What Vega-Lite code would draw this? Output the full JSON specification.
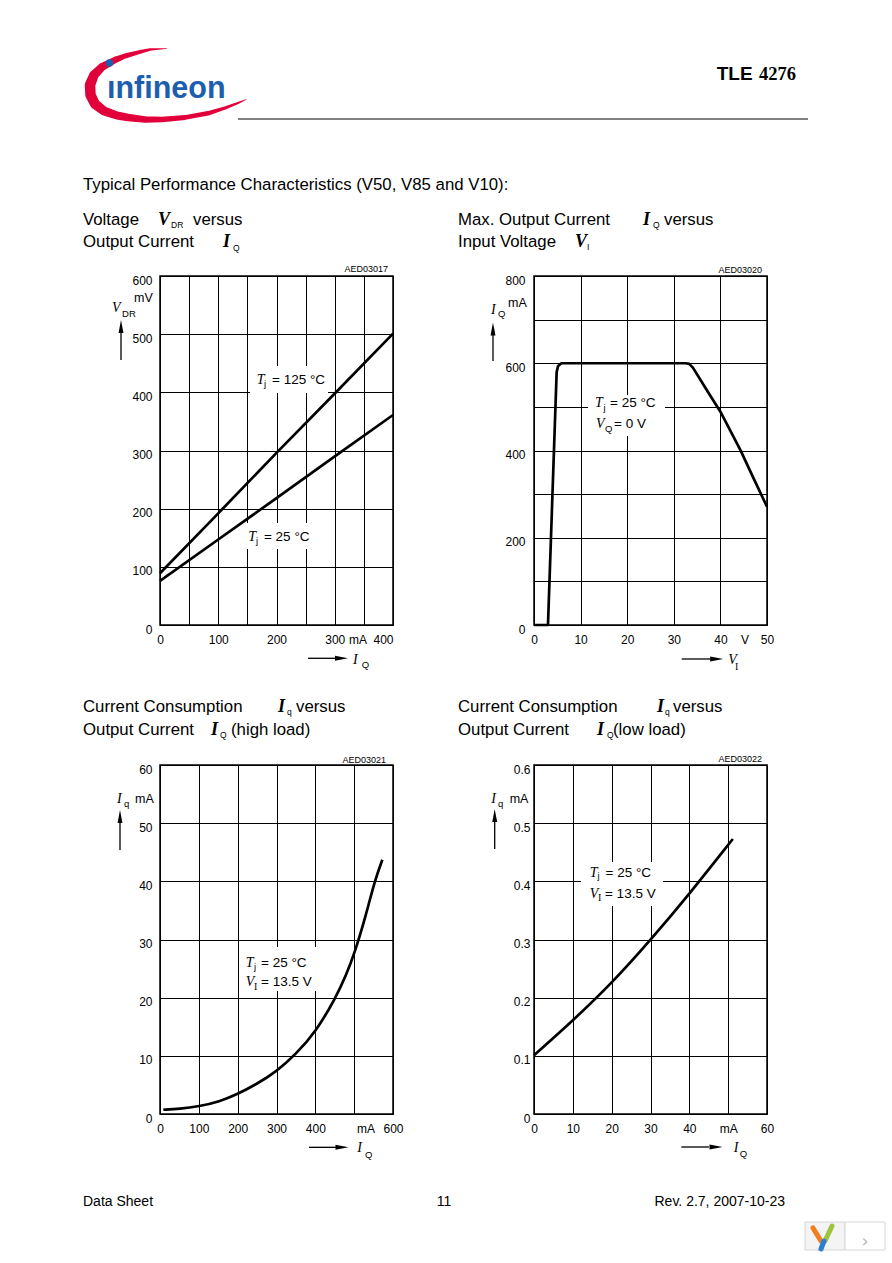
{
"$schema": "https://vega.github.io/schema/vega-lite/v6.json",
"padding": 0,
"background": "white",
"columns": 3,
"align": "each",
"bounds": "flush",
"spacing": {"row": 140, "column": 141},
"config": {
  "view": {"stroke": null},
  "mark": {"color": "#000"},
  "axis": {"labelFont": "Liberation Sans", "labelFontSize": 12, "labelColor": "#000", "grid": true, "gridColor": "#000", "gridOpacity": 1, "gridWidth": 1, "domain": false, "ticks": false, "labelFlush": false, "labelOverlap": false},
  "axisX": {"labelPadding": 9.5},
  "axisY": {"labelPadding": 8, "labelOffset": 4},
  "style": {
    "hw": {"font": "Liberation Sans", "fontSize": 16.8, "align": "left", "baseline": "middle"},
    "hsym": {"font": "Liberation Serif", "fontSize": 18, "fontStyle": "italic", "fontWeight": "bold", "align": "left", "baseline": "middle"},
    "hsub": {"font": "Liberation Sans", "fontSize": 8.5, "align": "left", "baseline": "middle"},
    "tag": {"font": "Liberation Sans", "fontSize": 9, "align": "right", "baseline": "middle"},
    "sym": {"font": "Liberation Serif", "fontSize": 14, "fontStyle": "italic", "align": "left", "baseline": "middle"},
    "sub": {"font": "Liberation Sans", "fontSize": 9.5, "align": "left", "baseline": "middle"},
    "subs": {"font": "Liberation Serif", "fontSize": 10, "align": "left", "baseline": "middle"},
    "txt": {"font": "Liberation Sans", "fontSize": 13.5, "align": "left", "baseline": "middle"},
    "unit": {"font": "Liberation Sans", "fontSize": 12.5, "align": "left", "baseline": "middle"},
    "unitc": {"font": "Liberation Sans", "fontSize": 12, "align": "center", "baseline": "middle"}
  }
},
"concat": [
  {
    "width": 19, "height": 136,
    "encoding": {
      "x": {"field": "x", "type": "quantitative", "scale": {"domain": [0, 19], "nice": false, "zero": false}, "axis": null},
      "y": {"field": "y", "type": "quantitative", "scale": {"domain": [0, 136], "nice": false, "zero": false, "reverse": true}, "axis": null}
    },
    "layer": [
      {"data": {"values": [{"x": 238, "x2": 808, "y": 119}]}, "mark": {"type": "rule", "strokeWidth": 1.2, "color": "#000"}, "encoding": {"x2": {"field": "x2"}}},
      {"data": {"values": [
        {"i": 0, "x": 167, "y": 48.5, "w": 0.5}, {"i": 1, "x": 150, "y": 49.5, "w": 2.5}, {"i": 2, "x": 141.7, "y": 51.5, "w": 3.5},
        {"i": 3, "x": 125, "y": 56, "w": 5}, {"i": 4, "x": 115, "y": 60, "w": 6.5}, {"i": 5, "x": 102, "y": 67, "w": 8},
        {"i": 6, "x": 94, "y": 75, "w": 9.5}, {"i": 7, "x": 90, "y": 85, "w": 10.5}, {"i": 8, "x": 90.5, "y": 95, "w": 10.5},
        {"i": 9, "x": 95, "y": 104, "w": 10}, {"i": 10, "x": 104, "y": 111, "w": 9}, {"i": 11, "x": 117, "y": 115.5, "w": 8},
        {"i": 12, "x": 128, "y": 117.5, "w": 7.5}, {"i": 13, "x": 145, "y": 119.5, "w": 6.5}, {"i": 14, "x": 162, "y": 119.5, "w": 5.5},
        {"i": 15, "x": 185, "y": 117.5, "w": 4.8}, {"i": 16, "x": 208, "y": 113.3, "w": 4.5}, {"i": 17, "x": 225, "y": 108, "w": 3.3},
        {"i": 18, "x": 238, "y": 103, "w": 2}, {"i": 19, "x": 246, "y": 99.5, "w": 0.8}
      ]}, "mark": {"type": "trail", "color": "#e2003a"},
       "encoding": {"size": {"field": "w", "type": "quantitative", "scale": {"domain": [0, 12], "range": [0, 12]}, "legend": null}, "order": {"field": "i", "type": "quantitative"}}},
      {"data": {"values": [{"x": 107, "y": 98.3, "t": "ınfineon"}]}, "mark": {"type": "text", "font": "Liberation Sans", "fontWeight": "bold", "fontSize": 30.5, "align": "left", "baseline": "alphabetic", "color": "#1c5fae"}, "encoding": {"text": {"field": "t", "type": "nominal"}}},
      {"data": {"values": [{"x": 109.5, "y": 63}]}, "mark": {"type": "point", "shape": "circle", "filled": true, "opacity": 1, "size": 56, "color": "#1c5fae"}},
      {"data": {"values": [{"x": 716.7, "y": 73.5, "t": "TLE"}]}, "mark": {"type": "text", "font": "Liberation Sans", "fontWeight": "bold", "fontSize": 19, "align": "left", "baseline": "middle"}, "encoding": {"text": {"field": "t", "type": "nominal"}}},
      {"data": {"values": [{"x": 759, "y": 73.5, "t": "4276"}]}, "mark": {"type": "text", "font": "Liberation Serif", "fontWeight": "bold", "fontSize": 18.5, "align": "left", "baseline": "middle"}, "encoding": {"text": {"field": "t", "type": "nominal"}}},
      {"data": {"values": [{"x": 83, "y": 185, "t": "Typical Performance Characteristics (V50, V85 and V10):"}]}, "mark": {"type": "text", "style": "hw"}, "encoding": {"text": {"field": "t", "type": "nominal"}}}
    ]
  },
  {"width": 233, "height": 136, "data": {"values": [{}]}, "mark": {"type": "text", "text": ""}},
  {"width": 233, "height": 136, "data": {"values": [{}]}, "mark": {"type": "text", "text": ""}},
  {"width": 19, "height": 349, "data": {"values": [{}]}, "mark": {"type": "text", "text": ""}},
  {
    "width": 233, "height": 349,
    "view": {"stroke": "#000", "strokeWidth": 1.5},
    "encoding": {
      "x": {"field": "x", "type": "quantitative", "scale": {"domain": [0, 400], "nice": false, "zero": false},
            "axis": {"title": null, "values": [0, 50, 100, 150, 200, 250, 300, 350, 400], "labelExpr": "datum.value % 100 === 0 ? datum.label : ''", "labelAlign": {"condition": {"test": "datum.value === 400", "value": "right"}, "value": "center"}}},
      "y": {"field": "y", "type": "quantitative", "scale": {"domain": [0, 600], "nice": false, "zero": false},
            "axis": {"title": null, "values": [0, 100, 200, 300, 400, 500, 600]}}
    },
    "layer": [
      {"data": {"values": [{"x": 154.5, "x2": 288.4, "y": 445.3, "y2": 398.9}, {"x": 142.5, "x2": 262.7, "y": 175.4, "y2": 130.7}]}, "mark": {"type": "rect", "color": "#fff"}, "encoding": {"x2": {"field": "x2"}, "y2": {"field": "y2"}}},
      {"data": {"values": [
        {"s": "125", "x": 0, "y": 89}, {"s": "125", "x": 100, "y": 192}, {"s": "125", "x": 200, "y": 296}, {"s": "125", "x": 300, "y": 398}, {"s": "125", "x": 400, "y": 501},
        {"s": "25", "x": 0, "y": 76}, {"s": "25", "x": 100, "y": 147}, {"s": "25", "x": 200, "y": 218}, {"s": "25", "x": 300, "y": 290}, {"s": "25", "x": 400, "y": 361}
      ]}, "mark": {"type": "line", "strokeWidth": 2.7, "color": "#000"}, "encoding": {"detail": {"field": "s", "type": "nominal"}}},
      {"data": {"values": [{"x": -66.95, "x2": -66.95, "y": 455.6, "y2": 502}, {"x": 254.1, "x2": 304, "y": -57.25, "y2": -57.25}]}, "mark": {"type": "rule", "strokeWidth": 1.3, "color": "#000"}, "encoding": {"x2": {"field": "x2"}, "y2": {"field": "y2"}}},
      {"data": {"values": [{"x": -66.95, "y": 513.2}]}, "mark": {"type": "point", "shape": "M0,-1L0.38,1L-0.38,1Z", "filled": true, "opacity": 1, "size": 169, "color": "#000"}},
      {"data": {"values": [{"x": 311.6, "y": -57.25}]}, "mark": {"type": "point", "shape": "M1,0L-1,-0.38L-1,0.38Z", "filled": true, "opacity": 1, "size": 169, "color": "#000"}},
      {"data": {"values": [{"x": -132.2, "y": 696.3, "t": "Voltage"}, {"x": 56.7, "y": 696.3, "t": "versus"}, {"x": -132.2, "y": 657.6, "t": "Output Current"}]}, "mark": {"type": "text", "style": "hw"}, "encoding": {"text": {"field": "t", "type": "nominal"}}},
      {"data": {"values": [{"x": -3.4, "y": 696.3, "t": "V"}, {"x": 108.2, "y": 657.6, "t": "I"}]}, "mark": {"type": "text", "style": "hsym"}, "encoding": {"text": {"field": "t", "type": "nominal"}}},
      {"data": {"values": [{"x": 18.9, "y": 688.5, "t": "DR"}, {"x": 125.3, "y": 648.1, "t": "Q"}]}, "mark": {"type": "text", "style": "hsub"}, "encoding": {"text": {"field": "t", "type": "nominal"}}},
      {"data": {"values": [{"x": 391.4, "y": 612.0, "t": "AED03017"}]}, "mark": {"type": "text", "style": "tag"}, "encoding": {"text": {"field": "t", "type": "nominal"}}},
      {"data": {"values": [{"x": -82.4, "y": 545.0, "t": "V"}, {"x": 166.0, "y": 421.2, "t": "T"}, {"x": 151.6, "y": 151.8, "t": "T"}, {"x": 331.3, "y": -60.2, "t": "I"}]}, "mark": {"type": "text", "style": "sym"}, "encoding": {"text": {"field": "t", "type": "nominal"}}},
      {"data": {"values": [{"x": -65.2, "y": 534.7, "t": "DR"}, {"x": 178.5, "y": 414.3, "t": "j"}, {"x": 164.8, "y": 144.4, "t": "j"}, {"x": 346.3, "y": -68.8, "t": "Q"}]}, "mark": {"type": "text", "style": "sub"}, "encoding": {"text": {"field": "t", "type": "nominal"}}},
      {"data": {"values": [{"x": 192.3, "y": 421.2, "t": "= 125 °C"}, {"x": 178.5, "y": 151.8, "t": "= 25 °C"}]}, "mark": {"type": "text", "style": "txt"}, "encoding": {"text": {"field": "t", "type": "nominal"}}},
      {"data": {"values": [{"x": -44.6, "y": 562.2, "t": "mV"}]}, "mark": {"type": "text", "style": "unit"}, "encoding": {"text": {"field": "t", "type": "nominal"}}},
      {"data": {"values": [{"x": 339.9, "y": -25.8, "t": "mA"}]}, "mark": {"type": "text", "style": "unitc"}, "encoding": {"text": {"field": "t", "type": "nominal"}}}
    ]
  },
  {
    "width": 233, "height": 349,
    "view": {"stroke": "#000", "strokeWidth": 1.5},
    "encoding": {
      "x": {"field": "x", "type": "quantitative", "scale": {"domain": [0, 50], "nice": false, "zero": false},
            "axis": {"title": null, "values": [0, 10, 20, 30, 40, 50]}},
      "y": {"field": "y", "type": "quantitative", "scale": {"domain": [0, 800], "nice": false, "zero": false},
            "axis": {"title": null, "values": [0, 100, 200, 300, 400, 500, 600, 700, 800], "labelExpr": "datum.value % 200 === 0 ? datum.label : ''", "labelPadding": 9}}
    },
    "layer": [
      {"data": {"values": [{"x": 11.59, "x2": 28.11, "y": 527.2, "y2": 433.2}]}, "mark": {"type": "rect", "color": "#fff"}, "encoding": {"x2": {"field": "x2"}, "y2": {"field": "y2"}}},
      {"data": {"values": [
        {"x": 0, "y": 0}, {"x": 3, "y": 0}, {"x": 4.86, "y": 579.5}, {"x": 5.14, "y": 593}, {"x": 5.86, "y": 600},
        {"x": 32.6, "y": 600}, {"x": 33.3, "y": 598.5}, {"x": 34.1, "y": 590}, {"x": 37, "y": 540}, {"x": 40, "y": 489},
        {"x": 44.3, "y": 401}, {"x": 47, "y": 339}, {"x": 50, "y": 271}
      ]}, "mark": {"type": "line", "strokeWidth": 2.7, "color": "#000", "strokeJoin": "round"}},
      {"data": {"values": [{"x": -8.8, "x2": -8.8, "y": 605.2, "y2": 664.8}, {"x": 31.7, "x2": 37.98, "y": -77.9, "y2": -77.9}]}, "mark": {"type": "rule", "strokeWidth": 1.3, "color": "#000"}, "encoding": {"x2": {"field": "x2"}, "y2": {"field": "y2"}}},
      {"data": {"values": [{"x": -8.8, "y": 678.5}]}, "mark": {"type": "point", "shape": "M0,-1L0.38,1L-0.38,1Z", "filled": true, "opacity": 1, "size": 169, "color": "#000"}},
      {"data": {"values": [{"x": 39.21, "y": -77.9}]}, "mark": {"type": "point", "shape": "M1,0L-1,-0.38L-1,0.38Z", "filled": true, "opacity": 1, "size": 169, "color": "#000"}},
      {"data": {"values": [{"x": -16.31, "y": 928.4, "t": "Max. Output Current"}, {"x": 27.9, "y": 928.4, "t": "versus"}, {"x": -16.31, "y": 876.8, "t": "Input Voltage"}]}, "mark": {"type": "text", "style": "hw"}, "encoding": {"text": {"field": "t", "type": "nominal"}}},
      {"data": {"values": [{"x": 23.39, "y": 928.4, "t": "I"}, {"x": 8.8, "y": 876.8, "t": "V"}]}, "mark": {"type": "text", "style": "hsym"}, "encoding": {"text": {"field": "t", "type": "nominal"}}},
      {"data": {"values": [{"x": 25.54, "y": 916.9, "t": "Q"}, {"x": 11.37, "y": 865.4, "t": "I"}]}, "mark": {"type": "text", "style": "hsub"}, "encoding": {"text": {"field": "t", "type": "nominal"}}},
      {"data": {"values": [{"x": 48.93, "y": 813.8, "t": "AED03020"}]}, "mark": {"type": "text", "style": "tag"}, "encoding": {"text": {"field": "t", "type": "nominal"}}},
      {"data": {"values": [{"x": -9.23, "y": 722.1, "t": "I"}, {"x": 13.09, "y": 508.2, "t": "T"}, {"x": 13.3, "y": 460.1, "t": "V"}, {"x": 41.7, "y": -80.2, "t": "V"}]}, "mark": {"type": "text", "style": "sym"}, "encoding": {"text": {"field": "t", "type": "nominal"}}},
      {"data": {"values": [{"x": -7.73, "y": 712.9, "t": "Q"}, {"x": 14.91, "y": 497.4, "t": "j"}, {"x": 15.24, "y": 450.4, "t": "Q"}]}, "mark": {"type": "text", "style": "sub"}, "encoding": {"text": {"field": "t", "type": "nominal"}}},
      {"data": {"values": [{"x": 43.13, "y": -95.6, "t": "I"}]}, "mark": {"type": "text", "style": "subs"}, "encoding": {"text": {"field": "t", "type": "nominal"}}},
      {"data": {"values": [{"x": 16.31, "y": 508.2, "t": "= 25 °C"}, {"x": 17.17, "y": 460.1, "t": "= 0 V"}]}, "mark": {"type": "text", "style": "txt"}, "encoding": {"text": {"field": "t", "type": "nominal"}}},
      {"data": {"values": [{"x": -5.58, "y": 738.1, "t": "mA"}]}, "mark": {"type": "text", "style": "unit"}, "encoding": {"text": {"field": "t", "type": "nominal"}}},
      {"data": {"values": [{"x": 45.28, "y": -34.4, "t": "V"}]}, "mark": {"type": "text", "style": "unitc"}, "encoding": {"text": {"field": "t", "type": "nominal"}}}
    ]
  },
  {"width": 19, "height": 349, "data": {"values": [{}]}, "mark": {"type": "text", "text": ""}},
  {
    "width": 233, "height": 349,
    "view": {"stroke": "#000", "strokeWidth": 1.5},
    "encoding": {
      "x": {"field": "x", "type": "quantitative", "scale": {"domain": [0, 600], "nice": false, "zero": false},
            "axis": {"title": null, "values": [0, 100, 200, 300, 400, 500, 600], "labelExpr": "datum.value === 500 ? '' : datum.label"}},
      "y": {"field": "y", "type": "quantitative", "scale": {"domain": [0, 60], "nice": false, "zero": false},
            "axis": {"title": null, "values": [0, 10, 20, 30, 40, 50, 60]}}
    },
    "layer": [
      {"data": {"values": [{"x": 208.6, "x2": 401.7, "y": 28.71, "y2": 21.15}]}, "mark": {"type": "rect", "color": "#fff"}, "encoding": {"x2": {"field": "x2"}, "y2": {"field": "y2"}}},
      {"data": {"values": [
        {"x": 8.6, "y": 0.74}, {"x": 49.7, "y": 0.86}, {"x": 101.1, "y": 1.31}, {"x": 152.6, "y": 2.11}, {"x": 199.7, "y": 3.43},
        {"x": 246.9, "y": 5.05}, {"x": 300, "y": 7.3}, {"x": 349.7, "y": 10.29}, {"x": 401.1, "y": 14.11}, {"x": 452.6, "y": 20.0},
        {"x": 478.3, "y": 23.71}, {"x": 501.4, "y": 27.71}, {"x": 529.7, "y": 34.0}, {"x": 552.9, "y": 40.11}, {"x": 572.6, "y": 43.71}
      ]}, "mark": {"type": "line", "strokeWidth": 2.7, "color": "#000", "interpolate": "basis"}},
      {"data": {"values": [{"x": -103.0, "x2": -103.0, "y": 45.39, "y2": 50.2}, {"x": 383.7, "x2": 455.8, "y": -5.73, "y2": -5.73}]}, "mark": {"type": "rule", "strokeWidth": 1.3, "color": "#000"}, "encoding": {"x2": {"field": "x2"}, "y2": {"field": "y2"}}},
      {"data": {"values": [{"x": -103.0, "y": 51.15}]}, "mark": {"type": "point", "shape": "M0,-1L0.38,1L-0.38,1Z", "filled": true, "opacity": 1, "size": 169, "color": "#000"}},
      {"data": {"values": [{"x": 468.7, "y": -5.73}]}, "mark": {"type": "point", "shape": "M1,0L-1,-0.38L-1,0.38Z", "filled": true, "opacity": 1, "size": 169, "color": "#000"}},
      {"data": {"values": [{"x": -198.3, "y": 69.97, "t": "Current Consumption"}, {"x": 350.2, "y": 69.97, "t": "versus"}, {"x": -198.3, "y": 66.02, "t": "Output Current"}, {"x": 182.8, "y": 66.02, "t": "(high load)"}]}, "mark": {"type": "text", "style": "hw"}, "encoding": {"text": {"field": "t", "type": "nominal"}}},
      {"data": {"values": [{"x": 303.9, "y": 69.97, "t": "I"}, {"x": 131.3, "y": 66.02, "t": "I"}]}, "mark": {"type": "text", "style": "hsym"}, "encoding": {"text": {"field": "t", "type": "nominal"}}},
      {"data": {"values": [{"x": 327.0, "y": 69.11, "t": "q"}, {"x": 154.5, "y": 65.16, "t": "Q"}]}, "mark": {"type": "text", "style": "hsub"}, "encoding": {"text": {"field": "t", "type": "nominal"}}},
      {"data": {"values": [{"x": 582.0, "y": 60.86, "t": "AED03021"}]}, "mark": {"type": "text", "style": "tag"}, "encoding": {"text": {"field": "t", "type": "nominal"}}},
      {"data": {"values": [{"x": -110.7, "y": 54.15, "t": "I"}, {"x": 220.7, "y": 25.91, "t": "T"}, {"x": 220.7, "y": 22.75, "t": "V"}, {"x": 508.1, "y": -5.9, "t": "I"}]}, "mark": {"type": "text", "style": "sym"}, "encoding": {"text": {"field": "t", "type": "nominal"}}},
      {"data": {"values": [{"x": -92.7, "y": 53.3, "t": "q"}, {"x": 242.1, "y": 25.19, "t": "j"}, {"x": 527.9, "y": -7.05, "t": "Q"}]}, "mark": {"type": "text", "style": "sub"}, "encoding": {"text": {"field": "t", "type": "nominal"}}},
      {"data": {"values": [{"x": 242.1, "y": 21.83, "t": "I"}]}, "mark": {"type": "text", "style": "subs"}, "encoding": {"text": {"field": "t", "type": "nominal"}}},
      {"data": {"values": [{"x": 260.1, "y": 25.91, "t": "= 25 °C"}, {"x": 260.1, "y": 22.75, "t": "= 13.5 V"}]}, "mark": {"type": "text", "style": "txt"}, "encoding": {"text": {"field": "t", "type": "nominal"}}},
      {"data": {"values": [{"x": -64.4, "y": 54.15, "t": "mA"}]}, "mark": {"type": "text", "style": "unit"}, "encoding": {"text": {"field": "t", "type": "nominal"}}},
      {"data": {"values": [{"x": 530.5, "y": -2.6, "t": "mA"}]}, "mark": {"type": "text", "style": "unitc"}, "encoding": {"text": {"field": "t", "type": "nominal"}}}
    ]
  },
  {
    "width": 233, "height": 349,
    "view": {"stroke": "#000", "strokeWidth": 1.5},
    "encoding": {
      "x": {"field": "x", "type": "quantitative", "scale": {"domain": [0, 60], "nice": false, "zero": false},
            "axis": {"title": null, "values": [0, 10, 20, 30, 40, 50, 60], "labelExpr": "datum.value === 50 ? 'mA' : datum.label"}},
      "y": {"field": "y", "type": "quantitative", "scale": {"domain": [0, 0.6], "nice": false, "zero": false},
            "axis": {"title": null, "values": [0, 0.1, 0.2, 0.3, 0.4, 0.5, 0.6], "format": ".1~f", "labelPadding": 4}}
    },
    "layer": [
      {"data": {"values": [{"x": 12.1, "x2": 33.22, "y": 0.4332, "y2": 0.3576}]}, "mark": {"type": "rect", "color": "#fff"}, "encoding": {"x2": {"field": "x2"}, "y2": {"field": "y2"}}},
      {"data": {"values": [
        {"x": 0, "y": 0.101}, {"x": 10, "y": 0.1605}, {"x": 20, "y": 0.2245},
        {"x": 30, "y": 0.299}, {"x": 40, "y": 0.378}, {"x": 51.2, "y": 0.4728}
      ]}, "mark": {"type": "line", "strokeWidth": 2.7, "color": "#000", "interpolate": "basis"}},
      {"data": {"values": [{"x": -10.12, "x2": -10.12, "y": 0.4556, "y2": 0.5037}, {"x": 37.93, "x2": 45.06, "y": -0.05673, "y2": -0.05673}]}, "mark": {"type": "rule", "strokeWidth": 1.3, "color": "#000"}, "encoding": {"x2": {"field": "x2"}, "y2": {"field": "y2"}}},
      {"data": {"values": [{"x": -10.12, "y": 0.5132}]}, "mark": {"type": "point", "shape": "M0,-1L0.38,1L-0.38,1Z", "filled": true, "opacity": 1, "size": 169, "color": "#000"}},
      {"data": {"values": [{"x": 46.87, "y": -0.05673}]}, "mark": {"type": "point", "shape": "M1,0L-1,-0.38L-1,0.38Z", "filled": true, "opacity": 1, "size": 169, "color": "#000"}},
      {"data": {"values": [{"x": -19.57, "y": 0.6997, "t": "Current Consumption"}, {"x": 35.8, "y": 0.6997, "t": "versus"}, {"x": -19.57, "y": 0.6602, "t": "Output Current"}, {"x": 20.34, "y": 0.6602, "t": "(low load)"}]}, "mark": {"type": "text", "style": "hw"}, "encoding": {"text": {"field": "t", "type": "nominal"}}},
      {"data": {"values": [{"x": 31.67, "y": 0.6997, "t": "I"}, {"x": 16.22, "y": 0.6602, "t": "I"}]}, "mark": {"type": "text", "style": "hsym"}, "encoding": {"text": {"field": "t", "type": "nominal"}}},
      {"data": {"values": [{"x": 33.73, "y": 0.6911, "t": "q"}, {"x": 18.8, "y": 0.6516, "t": "Q"}]}, "mark": {"type": "text", "style": "hsub"}, "encoding": {"text": {"field": "t", "type": "nominal"}}},
      {"data": {"values": [{"x": 58.71, "y": 0.6098, "t": "AED03022"}]}, "mark": {"type": "text", "style": "tag"}, "encoding": {"text": {"field": "t", "type": "nominal"}}},
      {"data": {"values": [{"x": -10.99, "y": 0.5415, "t": "I"}, {"x": 14.34, "y": 0.4148, "t": "T"}, {"x": 14.34, "y": 0.3777, "t": "V"}, {"x": 51.42, "y": -0.0579, "t": "I"}]}, "mark": {"type": "text", "style": "sym"}, "encoding": {"text": {"field": "t", "type": "nominal"}}},
      {"data": {"values": [{"x": -9.27, "y": 0.533, "t": "q"}, {"x": 16.35, "y": 0.4092, "t": "j"}, {"x": 52.97, "y": -0.0693, "t": "Q"}]}, "mark": {"type": "text", "style": "sub"}, "encoding": {"text": {"field": "t", "type": "nominal"}}},
      {"data": {"values": [{"x": 16.48, "y": 0.3705, "t": "I"}]}, "mark": {"type": "text", "style": "subs"}, "encoding": {"text": {"field": "t", "type": "nominal"}}},
      {"data": {"values": [{"x": 18.41, "y": 0.4148, "t": "= 25 °C"}, {"x": 18.28, "y": 0.3777, "t": "= 13.5 V"}]}, "mark": {"type": "text", "style": "txt"}, "encoding": {"text": {"field": "t", "type": "nominal"}}},
      {"data": {"values": [{"x": -6.26, "y": 0.5415, "t": "mA"}]}, "mark": {"type": "text", "style": "unit"}, "encoding": {"text": {"field": "t", "type": "nominal"}}}
    ]
  },
  {
    "width": 19, "height": 1,
    "encoding": {
      "x": {"field": "x", "type": "quantitative", "scale": {"domain": [0, 19], "nice": false, "zero": false}, "axis": null},
      "y": {"field": "y", "type": "quantitative", "scale": {"domain": [0, 1], "nice": false, "zero": false, "reverse": true}, "axis": null}
    },
    "layer": [
      {"data": {"values": [{"x": 83, "y": -52, "t": "Data Sheet"}]}, "mark": {"type": "text", "font": "Liberation Sans", "fontSize": 14, "align": "left", "baseline": "middle"}, "encoding": {"text": {"field": "t", "type": "nominal"}}},
      {"data": {"values": [{"x": 444, "y": -52, "t": "11"}]}, "mark": {"type": "text", "font": "Liberation Sans", "fontSize": 14, "align": "center", "baseline": "middle"}, "encoding": {"text": {"field": "t", "type": "nominal"}}},
      {"data": {"values": [{"x": 785, "y": -52, "t": "Rev. 2.7, 2007-10-23"}]}, "mark": {"type": "text", "font": "Liberation Sans", "fontSize": 14, "align": "right", "baseline": "middle"}, "encoding": {"text": {"field": "t", "type": "nominal"}}},
      {"data": {"values": [{"x": 805, "x2": 845, "y": -32, "y2": -4}]}, "mark": {"type": "rect", "color": "#f4f4f4", "stroke": "#d6d6d6", "strokeWidth": 1}, "encoding": {"x2": {"field": "x2"}, "y2": {"field": "y2"}}},
      {"data": {"values": [{"x": 845, "x2": 885, "y": -32, "y2": -4}]}, "mark": {"type": "rect", "color": "#ffffff", "stroke": "#d6d6d6", "strokeWidth": 1}, "encoding": {"x2": {"field": "x2"}, "y2": {"field": "y2"}}},
      {"data": {"values": [
        {"arm": "a", "x": 813, "x2": 821, "y": -26, "y2": -13},
        {"arm": "b", "x": 832, "x2": 825, "y": -28, "y2": -13},
        {"arm": "c", "x": 824, "x2": 821, "y": -13, "y2": -5}
      ]}, "mark": {"type": "rule", "strokeWidth": 5, "strokeCap": "round"},
       "encoding": {"x2": {"field": "x2"}, "y2": {"field": "y2"}, "color": {"field": "arm", "type": "nominal", "scale": {"domain": ["a", "b", "c"], "range": ["#f07d22", "#9bc53d", "#2b7fd0"]}, "legend": null}}},
      {"data": {"values": [{"x": 865, "y": -12, "t": "›"}]}, "mark": {"type": "text", "font": "DejaVu Sans", "fontSize": 18, "align": "center", "baseline": "middle", "color": "#bbbbbb"}, "encoding": {"text": {"field": "t", "type": "nominal"}}}
    ]
  }
]
}
